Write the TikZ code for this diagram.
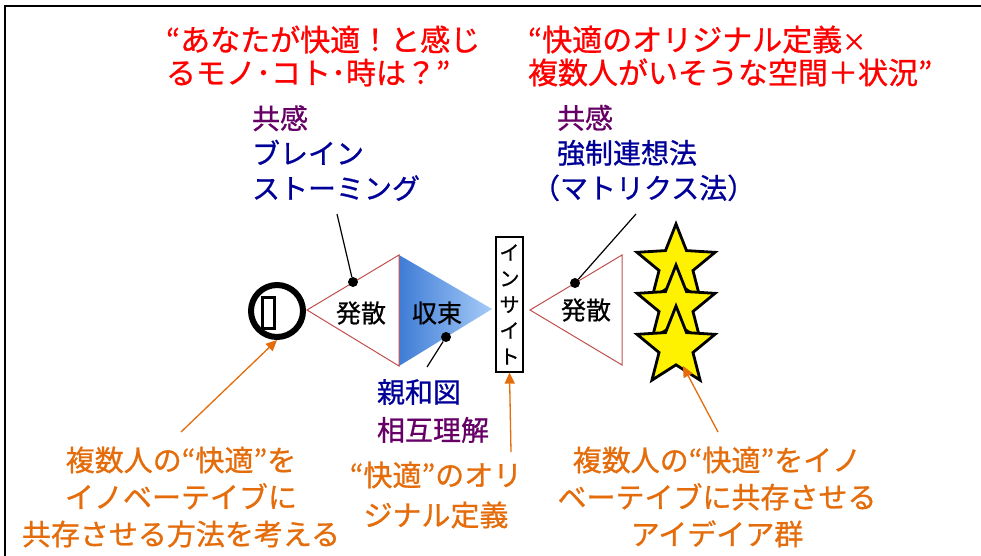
\documentclass[tikz,border=0pt]{standalone}
\usepackage{fontspec}
\setmainfont{Noto Sans CJK JP}[FakeBold=0.8]
\usetikzlibrary{shapes.geometric,arrows.meta}
\definecolor{tred}{HTML}{FF0000}
\definecolor{purp}{HTML}{660066}
\definecolor{navy}{HTML}{000099}
\definecolor{orng}{HTML}{E46C0A}
\definecolor{triedge}{HTML}{C0504D}
\definecolor{blueL}{HTML}{3F7CD6}
\definecolor{blueR}{HTML}{A6CBF8}
\begin{document}
\begin{tikzpicture}[x=1pt,y=-1pt,
 txt/.style={inner sep=0pt, outer sep=0pt},
 title/.style={txt, text=tred, font=\fontsize{30}{33}\selectfont, align=left, anchor=west},
 tool/.style={txt, font=\fontsize{28}{35}\selectfont, align=left, anchor=west},
 note/.style={txt, text=orng, font=\fontsize{29}{37}\selectfont, align=center},
 tri/.style={draw=triedge, line width=1pt, fill=white},
 dotc/.style={circle, fill=black, inner sep=0pt, minimum size=10pt},
 lead/.style={draw=black, line width=1.2pt},
 arr/.style={draw=orng, line width=1.3pt, -{Triangle[length=11pt,width=10pt]}},
 starn/.style={star, star points=5, star point ratio=2.3, minimum size=82pt, inner sep=0pt, fill=yellow, draw=black, line width=2.8pt},
]
\useasboundingbox (0,0) rectangle (981,555);
\draw[line width=2pt] (5,6) rectangle (1010,580);

% titles
\node[title] (t1) at (166,56) {“あなたが快適！と感じ\\るモノ･コト･時は？”};
\node[title] (t2) at (528,56) {“快適のオリジナル定義{\fontsize{24}{24}\selectfont ×}\\複数人がいそうな空間＋状況”};

% tools
\node[tool] (k1) at (252,153) {\textcolor{purp}{共感}\\\textcolor{navy}{ブレイン}\\\textcolor{navy}{ストーミング}};
\node[tool] (k2) at (557,153) {\textcolor{purp}{共感}\\\textcolor{navy}{強制連想法}\\\hspace*{-25pt}\textcolor{navy}{（マトリクス法）}};
\node[tool, font=\fontsize{28}{38}\selectfont] (k3) at (377,411) {\textcolor{navy}{親和図}\\\textcolor{purp}{相互理解}};

% shapes
\shade[left color=blueL, right color=blueR] (399,255) -- (492,309) -- (399,366) -- cycle;
\draw[tri] (307,310) -- (399,255) -- (399,366) -- cycle;
\draw[tri] (530,310) -- (622,255) -- (622,365) -- cycle;
\node[txt, font=\fontsize{25}{25}\selectfont] (l1) at (361,313) {発散};
\node[txt, font=\fontsize{25}{25}\selectfont] (l2) at (437,313) {収束};
\node[txt, font=\fontsize{25}{25}\selectfont] (l3) at (586,310) {発散};

\node[circle, draw, line width=6pt, minimum size=52pt, inner sep=0pt] (circ) at (277,311) {};
\draw[line width=3pt] (262,297) rectangle (274,328);

\node[draw, line width=1.2pt, minimum width=27pt, minimum height=135pt, inner sep=0pt,
      font=\fontsize{20}{26}\selectfont, align=center] (ins) at (509.5,304.5) {イ\\ン\\サ\\イ\\ト};

\node[starn] (s1) at (676,265) {};
\node[starn] (s2) at (676,306) {};
\node[starn] (s3) at (676,347) {};

% leader lines
\node[dotc] (d1) at (353,282) {};
\node[dotc] (d2) at (446,337) {};
\node[dotc] (d3) at (575,283) {};
\coordinate (e1) at (337,214);
\coordinate (e2) at (427,367);
\coordinate (e3) at (636,214);
\draw[lead] (e1) -- (d1);
\draw[lead] (e2) -- (d2);
\draw[lead] (e3) -- (d3);

% notes
\node[note] (n1) at (181,497) {複数人の“快適”を\\イノベーテイブに\\共存させる方法を考える};
\node[note, font=\fontsize{29}{40}\selectfont] (n2) at (436,495) {“快適”のオリ\\ジナル定義};
\node[note] (n3) at (717,497) {複数人の“快適”をイノ\\ベーテイブに共存させる\\アイデイア群};

% arrows
\coordinate (a1) at (181,432);
\coordinate (a2) at (511,452);
\coordinate (a3) at (718,432);
\coordinate (a3e) at (683,366);
\draw[arr] (a1) -- (circ.south);
\draw[arr] (a2) -- (ins.south);
\draw[arr] (a3) -- (a3e);
\end{tikzpicture}
\end{document}
